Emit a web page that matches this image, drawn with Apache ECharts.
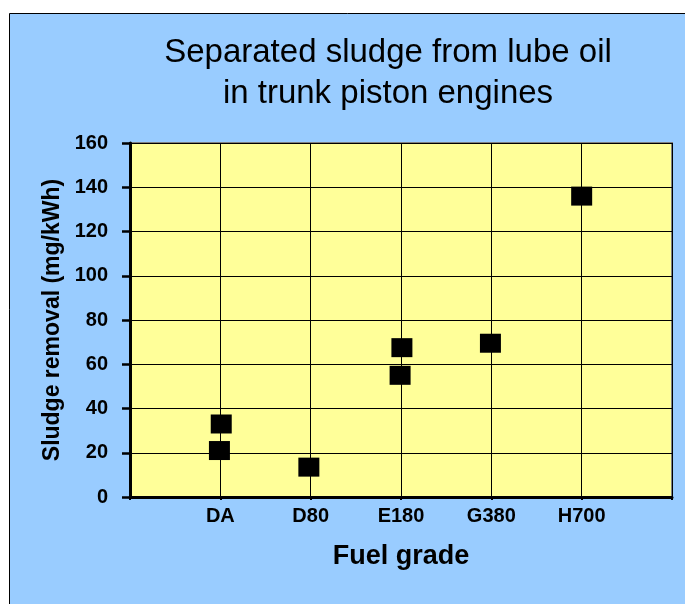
<!DOCTYPE html>
<html>
<head>
<meta charset="utf-8">
<script src="https://cdn.jsdelivr.net/npm/echarts@6/dist/echarts.min.js"></script>
<style>
  html, body { margin: 0; padding: 0; background: #fff; }
  #chart { width: 685px; height: 604px; }
</style>
</head>
<body>
<div id="chart"></div>
<script>
// fuel grade names, placed at x = 1..5
const fuelGrades = ['DA', 'D80', 'E180', 'G380', 'H700'];
// x position (grade index, slightly jittered as in the source) and sludge removal mg/kWh
const pointX = [1.01, 0.99, 1.98, 3.01, 2.99, 3.99, 5.0];
const sludge = [33, 21, 13.5, 67.5, 55, 69.5, 136];
const yTicks = [0, 20, 40, 60, 80, 100, 120, 140, 160];

const font = 'Liberation Sans, Arial, sans-serif';

document.addEventListener('DOMContentLoaded', function() {
    const chart = echarts.init(document.getElementById('chart'), null, { renderer: 'canvas' });

    const points = pointX.map((x, i) => [x, sludge[i]]);

    const option = {
        backgroundColor: '#ffffff',
        animation: false,
        graphic: [{
            type: 'rect', z: -10,
            shape: { x: 9.5, y: 13.5, width: 700, height: 620 },
            style: { fill: '#99CCFF', stroke: '#000', lineWidth: 1 }
        }],
        title: {
            text: 'Separated sludge from lube oil\nin trunk piston engines',
            left: 388, top: 32, padding: 0, textAlign: 'center',
            textStyle: { fontFamily: font, fontSize: 33, fontWeight: 'normal', color: '#000', lineHeight: 41 }
        },
        grid: {
            left: 130, top: 143, right: 13, bottom: 107,
            show: true, backgroundColor: '#FFFF99', borderColor: '#808080', borderWidth: 2
        },
        xAxis: {
            type: 'value', min: 0, max: 6, interval: 1,
            name: 'Fuel grade', nameLocation: 'middle', nameGap: 46,
            nameTextStyle: { fontFamily: font, fontSize: 27, fontWeight: 'bold', color: '#000' },
            axisLine: { lineStyle: { color: '#000', width: 3 } },
            axisTick: { show: true, length: 3, lineStyle: { color: '#000', width: 2 } },
            axisLabel: {
                margin: 9, fontFamily: font, fontSize: 20, fontWeight: 'bold', color: '#000',
                formatter: v => fuelGrades[v - 1] || ''
            },
            splitLine: { show: true, lineStyle: { color: '#000', width: 1 } }
        },
        yAxis: {
            type: 'value', min: yTicks[0], max: yTicks[yTicks.length - 1], interval: 20,
            name: 'Sludge removal (mg/kWh)', nameLocation: 'middle', nameGap: 63,
            nameTextStyle: { fontFamily: font, fontSize: 23, fontWeight: 'bold', color: '#000' },
            axisLine: { show: true, lineStyle: { color: '#000', width: 3 } },
            axisTick: { show: true, length: 8, lineStyle: { color: '#000', width: 2.5 } },
            axisLabel: { margin: 22, fontFamily: font, fontSize: 20, fontWeight: 'bold', color: '#000' },
            splitLine: { show: true, lineStyle: { color: '#000', width: 1 } }
        },
        series: [{
            type: 'scatter',
            symbol: 'rect',
            symbolSize: [21, 19],
            itemStyle: { color: '#000', opacity: 1 },
            data: points
        }]
    };
    chart.setOption(option);
});
</script>
</body>
</html>
